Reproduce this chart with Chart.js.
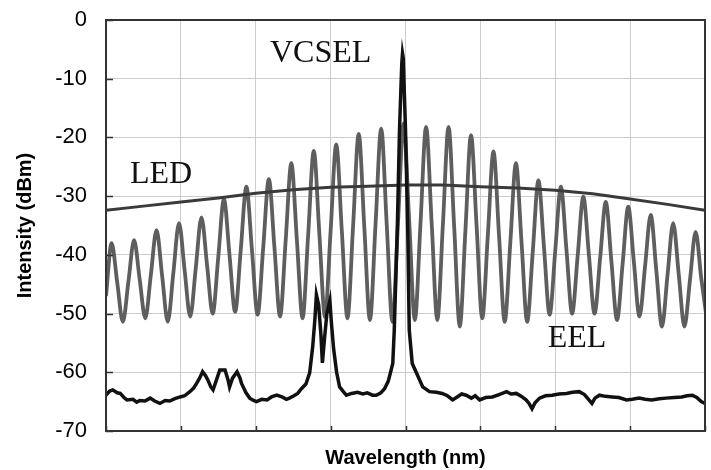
<!DOCTYPE html>
<html>
<head>
<meta charset="utf-8">
<script src="https://cdn.jsdelivr.net/npm/chart.js@4.4.1/dist/chart.umd.min.js"></script>
<style>
  html, body { margin: 0; padding: 0; background: #fff; }
  #wrap { width: 711px; height: 470px; }
</style>
</head>
<body>
<div id="wrap"><canvas id="chart"></canvas></div>
<script>
// wavelength axis has no numbers in the source figure, so x runs in grid divisions (0..8)
const xMin = 0, xMax = 8, xStep = 1;
const yMin = -70, yMax = 0, yStep = 10;

// LED: broad, smooth emission
const ledX = [0, 0.5, 1, 1.5, 2, 2.5, 3, 3.5, 4, 4.5, 5, 5.5, 6, 6.5, 7, 7.5, 8];
const ledY = [-32.4, -31.7, -31.0, -30.3, -29.5, -28.9, -28.5, -28.3, -28.1, -28.1, -28.4, -28.6, -29.0, -29.6, -30.5, -31.4, -32.4];

// EEL: Fabry-Perot mode comb, read every 0.075 div (flank, peak, flank, trough, ...)
const eelStep = 0.075;
const eelY = [
  -47.0, -38.0, -44.7, -51.4, -44.5, -37.5, -44.2, -50.8, -43.3, -35.8,
  -43.6, -51.4, -43.0, -34.6, -42.6, -50.5, -42.1, -33.6, -41.8, -50.0,
  -40.3, -30.5, -40.1, -49.7, -39.1, -28.4, -39.3, -50.2, -38.7, -27.1,
  -38.8, -50.5, -37.5, -24.4, -37.6, -50.8, -36.6, -22.3, -36.5, -50.6,
  -35.9, -21.2, -36.0, -50.8, -35.1, -19.4, -35.3, -51.1, -34.8, -18.5,
  -35.0, -51.4, -34.5, -17.6, -34.4, -51.1, -34.7, -18.2, -34.7, -51.1,
  -34.7, -18.2, -35.2, -52.2, -35.9, -19.6, -35.2, -50.8, -36.6, -22.4,
  -36.9, -51.4, -37.9, -24.4, -37.9, -51.4, -39.4, -27.3, -38.8, -50.2,
  -39.3, -28.4, -39.2, -50.0, -40.1, -30.1, -40.1, -50.0, -40.5, -31.0,
  -41.1, -51.1, -41.5, -31.8, -41.2, -50.5, -41.9, -33.2, -42.7, -52.2,
  -43.4, -34.6, -43.4, -52.2, -44.2, -36.1, -44.0, -51.0
];

// VCSEL: noise floor, side modes and the single dominant mode
const vcselX = [
  0.00, 0.05, 0.09, 0.15, 0.19, 0.24, 0.28, 0.36, 0.41, 0.45,
  0.52, 0.59, 0.65, 0.72, 0.79, 0.85, 0.92, 0.99, 1.05, 1.12,
  1.17, 1.21, 1.25, 1.29, 1.33, 1.36, 1.40, 1.43, 1.47, 1.52,
  1.59, 1.63, 1.65, 1.69, 1.75, 1.79, 1.81, 1.87, 1.92, 1.97,
  2.01, 2.08, 2.15, 2.21, 2.28, 2.35, 2.41, 2.45, 2.51, 2.56,
  2.61, 2.67, 2.72, 2.76, 2.79, 2.81, 2.84, 2.87, 2.89, 2.92,
  2.95, 2.99, 3.01, 3.04, 3.08, 3.12, 3.17, 3.21, 3.28, 3.36,
  3.43, 3.49, 3.56, 3.61, 3.67, 3.72, 3.77, 3.83, 3.85, 3.89,
  3.92, 3.95, 3.96, 3.97, 4.00, 4.03, 4.05, 4.09, 4.15, 4.23,
  4.32, 4.41, 4.49, 4.56, 4.63, 4.69, 4.75, 4.81, 4.88, 4.93,
  4.99, 5.07, 5.16, 5.25, 5.35, 5.41, 5.48, 5.55, 5.61, 5.65,
  5.69, 5.73, 5.79, 5.87, 5.96, 6.05, 6.15, 6.23, 6.32, 6.39,
  6.45, 6.49, 6.53, 6.59, 6.67, 6.76, 6.85, 6.95, 7.03, 7.12,
  7.20, 7.29, 7.39, 7.48, 7.59, 7.69, 7.76, 7.83, 7.89, 7.95, 8.00
];
const vcselY = [
  -63.9, -63.2, -63.0, -63.5, -63.6, -64.3, -64.7, -64.6, -65.1, -64.8,
  -64.9, -64.4, -64.9, -65.3, -64.8, -64.9, -64.5, -64.2, -64.0, -63.3,
  -62.7, -61.9, -61.0, -59.9, -60.6, -61.3, -62.5, -63.0, -61.5, -59.6,
  -59.6, -61.3, -62.5, -61.0, -59.9, -61.0, -61.9, -63.5, -64.4, -64.8,
  -65.0, -64.6, -64.7, -64.2, -63.9, -64.2, -64.6, -64.4, -64.0, -63.6,
  -62.8, -62.0, -60.1, -55.7, -51.0, -46.8, -48.5, -53.5, -58.4, -54.0,
  -50.0, -47.8, -51.5, -56.0, -60.0, -62.5, -63.3, -63.9, -63.6, -63.4,
  -63.7, -63.5, -63.9, -63.9, -63.5, -62.8, -61.5, -58.5, -52.8, -35.8,
  -18.7, -7.5, -5.7, -6.5, -18.7, -35.8, -52.8, -58.5, -60.2, -62.5,
  -63.3, -63.4, -63.6, -64.0, -64.7, -64.2, -63.7, -63.9, -64.4, -64.0,
  -64.7, -64.3, -64.2, -63.8, -63.3, -63.7, -63.6, -64.1, -64.7, -65.3,
  -66.2, -65.2, -64.4, -64.0, -63.9, -63.7, -63.6, -63.4, -63.3, -63.8,
  -64.7, -65.3, -64.4, -63.9, -64.1, -64.2, -64.3, -64.7, -64.6, -64.4,
  -64.6, -64.7, -64.5, -64.4, -64.3, -64.2, -64.0, -63.9, -64.3, -65.0, -65.3
];

// in-plot labels, placed in data coordinates
const curveLabels = [
  { text: 'VCSEL', x: 2.19, y: -7.2 },
  { text: 'LED', x: 0.32, y: -27.8 },
  { text: 'EEL', x: 5.9, y: -55.7 }
];

const pts = (xs, ys) => ys.map((y, i) => ({ x: xs[i], y }));
const eelX = eelY.map((_, i) => i * eelStep);
const sans = '"Liberation Sans", Arial, sans-serif';

const frame = {
  id: 'frame',
  afterDraw(chart) {
    const { ctx, chartArea: a, scales } = chart;
    ctx.save();
    // short inward tick marks
    ctx.strokeStyle = '#333';
    ctx.lineWidth = 1.5;
    ctx.beginPath();
    scales.y.ticks.forEach(t => {
      const py = Math.round(scales.y.getPixelForValue(t.value)) + 0.5;
      ctx.moveTo(a.left, py); ctx.lineTo(a.left + 7, py);
    });
    scales.x.ticks.forEach(t => {
      const px = Math.round(scales.x.getPixelForValue(t.value)) + 0.5;
      ctx.moveTo(px, a.bottom); ctx.lineTo(px, a.bottom - 5);
    });
    ctx.stroke();
    // box around plot
    ctx.strokeStyle = '#333';
    ctx.lineWidth = 2;
    ctx.strokeRect(a.left, a.top, a.right - a.left, a.bottom - a.top);
    // curve names
    ctx.fillStyle = '#111';
    ctx.font = '32px "Liberation Serif", "Times New Roman", serif';
    ctx.textAlign = 'left';
    ctx.textBaseline = 'alphabetic';
    curveLabels.forEach(l => {
      ctx.fillText(l.text, scales.x.getPixelForValue(l.x), scales.y.getPixelForValue(l.y));
    });
    ctx.restore();
  }
};

new Chart(document.getElementById('chart'), {
  type: 'line',
  data: {
    datasets: [
      { label: 'VCSEL', data: pts(vcselX, vcselY), borderColor: '#111', borderWidth: 3.5, tension: 0, clip: 0 },
      { label: 'LED', data: pts(ledX, ledY), borderColor: '#3a3a3a', borderWidth: 3, tension: 0, clip: 0 },
      { label: 'EEL', data: pts(eelX, eelY), borderColor: '#5e5e5e', borderWidth: 3.8, cubicInterpolationMode: 'monotone', clip: 0 }
    ]
  },
  plugins: [frame],
  options: {
    responsive: true, maintainAspectRatio: false, animation: false,
    layout: { padding: { top: 20, right: 6, left: 0, bottom: 0 } },
    elements: { point: { radius: 0 } },
    plugins: { legend: { display: false }, tooltip: { enabled: false } },
    scales: {
      x: {
        type: 'linear', min: xMin, max: xMax,
        ticks: { display: false, stepSize: xStep },
        grid: { color: '#cccccc', lineWidth: 1, drawTicks: false },
        border: { display: false },
        title: { display: true, text: 'Wavelength (nm)', color: '#000', font: { family: sans, size: 20, weight: 'bold' }, padding: { top: 0, bottom: 0 } },
        afterFit(s) { s.height = 39; }
      },
      y: {
        min: yMin, max: yMax,
        ticks: { stepSize: yStep, color: '#000', padding: 0, font: { family: sans, size: 22 } },
        grid: { color: '#cccccc', lineWidth: 1, drawTicks: true, tickLength: 19, tickColor: 'rgba(0,0,0,0)' },
        border: { display: false },
        title: { display: true, text: 'Intensity (dBm)', color: '#000', font: { family: sans, size: 20, weight: 'bold' }, padding: { top: 13, bottom: 0 } },
        afterFit(s) { s.width = 106; }
      }
    }
  }
});
</script>
</body>
</html>
